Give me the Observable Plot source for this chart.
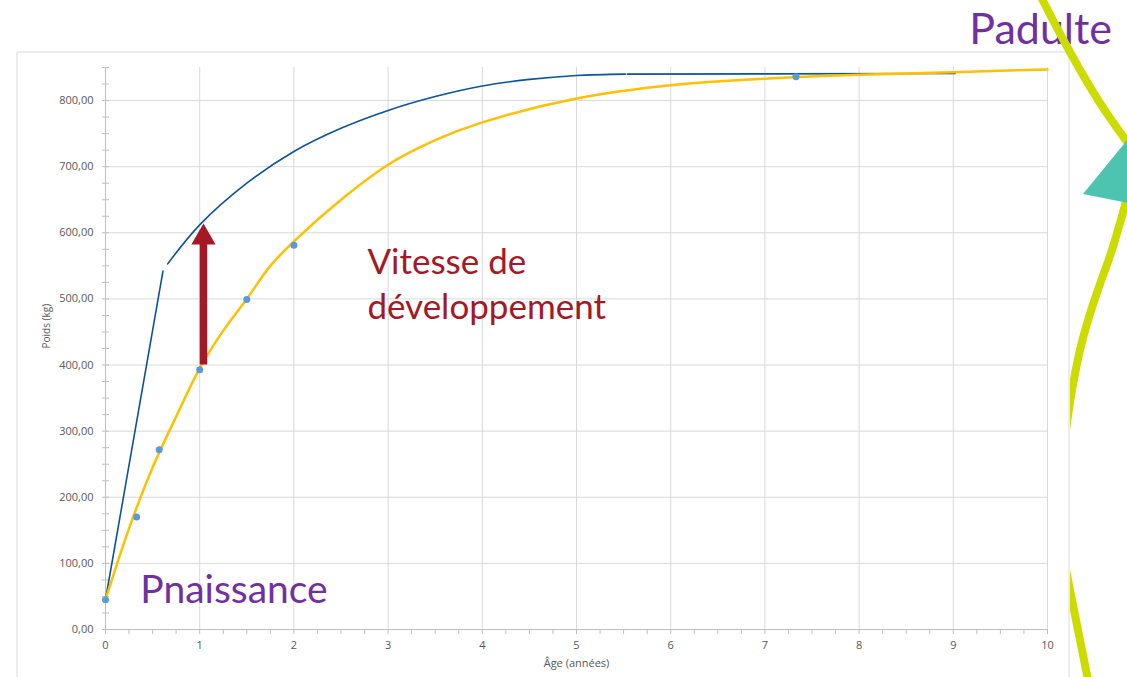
<!DOCTYPE html>
<html><head><meta charset="utf-8">
<script src="https://cdn.jsdelivr.net/npm/d3@7"></script>
<script src="https://cdn.jsdelivr.net/npm/@observablehq/plot@0.6"></script>
<style>html,body{margin:0;padding:0;background:#fff;overflow:hidden}</style>
</head><body><div id="chart"></div>
<script>
// Observed weights (blue dots)
const pointAge = [0, 0.33, 0.57, 1, 1.5, 2, 7.33];
const pointWeight = [45, 170, 272, 393, 499, 581, 836];
// Fitted growth curve (yellow)
const fitAge = [0, 0.25, 0.5, 0.75, 1, 1.25, 1.5, 1.75, 2, 2.5, 3, 3.5, 4, 5, 6, 7, 8, 9, 10];
const fitWeight = [45, 153, 245, 322, 395, 452, 500, 550, 587, 650, 703, 740, 767, 803, 823, 833, 839, 843, 847];
// Reference curve (dark blue), three pieces
const refAge1 = [0, 0.61];
const refWeight1 = [45, 542];
const refAge2 = [0.66, 1, 1.5, 2, 2.5, 3, 3.5, 4, 4.5, 5, 5.52];
const refWeight2 = [553, 612, 675, 723, 758, 785, 806, 822, 832, 838, 840];
const refAge3 = [5.54, 9.02];
const refWeight3 = [840, 841];
// Arrow "Vitesse de développement"
const arrowAge = [1.04];
const arrowFrom = [400];
const arrowHead = [593];
// Ticks
const yMajorTicks = [0, 100, 200, 300, 400, 500, 600, 700, 800];
const xMajorTicks = [0, 1, 2, 3, 4, 5, 6, 7, 8, 9, 10];
const yGridTicks = [100, 200, 300, 400, 500, 600, 700, 800];
const xGridTicks = [1, 2, 3, 4, 5, 6, 7, 8, 9, 10];
const yMinorTicks = d3.range(0, 851, 25);
const xMinorTicks = d3.range(0, 10.001, 0.25);
// Annotations
const labelTexts = ["Vitesse de", "développement", "Pnaissance", "Padulte"];
const labelAge = [2.78, 2.78, 0.37, 9.17];
const labelWeight = [554, 487, 59, 906];

const fit = fitAge.map((x, i) => ({x, y: fitWeight[i]}));
const pts = pointAge.map((x, i) => ({x, y: pointWeight[i]}));
const ref = [
  ...refAge1.map((x, i) => ({x, y: refWeight1[i], s: 1})),
  ...refAge2.map((x, i) => ({x, y: refWeight2[i], s: 2})),
  ...refAge3.map((x, i) => ({x, y: refWeight3[i], s: 3}))
];
const arrows = arrowAge.map((x, i) => ({x, y1: arrowFrom[i], y2: arrowHead[i] - 3, yh: arrowHead[i]}));
const labels = labelTexts.map((t, i) => ({t, x: labelAge[i], y: labelWeight[i]}));
const red = "#a51826", purple = "#7030a0", grid = "#d9d9d9", axisCol = "#bfbfbf", txt = "#595959";
const fmt = d => d.toFixed(2).replace(".", ",");

const plot = Plot.plot({
  width: 1127, height: 677,
  marginLeft: 105, marginRight: 80, marginTop: 67, marginBottom: 48,
  style: {fontFamily: "'Open Sans', sans-serif", background: "white", overflow: "visible"},
  x: {domain: [0, 10]},
  y: {domain: [0, 850]},
  marks: [
    Plot.ruleX(xGridTicks, {stroke: grid, strokeWidth: 1}),
    Plot.ruleY(yGridTicks, {stroke: grid, strokeWidth: 1}),
    Plot.ruleX([0], {stroke: axisCol}),
    Plot.ruleY([0], {stroke: axisCol}),
    Plot.axisY(yMinorTicks, {tickSize: 7, dx: 4, text: null, stroke: axisCol, label: null}),
    Plot.axisX(xMinorTicks, {tickSize: 5, text: null, stroke: axisCol, label: null}),
    Plot.axisY(yMajorTicks, {tickSize: 0, tickPadding: 12, tickFormat: fmt, fontSize: 11, fill: txt, label: null}),
    Plot.axisX(xMajorTicks, {tickSize: 0, tickPadding: 12, tickFormat: d => String(d), fontSize: 11, fill: txt, label: null}),
    Plot.text(["Poids (kg)"], {frameAnchor: "left", rotate: -90, dx: -59, fontSize: 10, fill: txt, style: "letter-spacing:0.6px"}),
    Plot.text(["Âge (années)"], {frameAnchor: "bottom", dy: 37, fontSize: 11, fill: txt}),
    Plot.line(ref, {x: "x", y: "y", z: "s", stroke: "#0b539e", strokeWidth: 1.6, curve: "catmull-rom"}),
    Plot.line(fit, {x: "x", y: "y", stroke: "#ffc000", strokeWidth: 2.5, curve: "catmull-rom"}),
    Plot.dot(pts, {x: "x", y: "y", r: 3.5, fill: "#5b9bd5"}),
    Plot.ruleX(arrows, {x: "x", y1: "y1", y2: "y2", stroke: red, strokeWidth: 7.5}),
    Plot.dot(arrows, {x: "x", y: "yh", symbol: "triangle", r: 9, fill: red, stroke: "none"}),
    Plot.text(labels.slice(0, 2), {x: "x", y: "y", text: "t", textAnchor: "start", fontSize: 35, fill: red, fontFamily: "Lato"}),
    Plot.text(labels.slice(2, 3), {x: "x", y: "y", text: "t", textAnchor: "start", fontSize: 39, fill: purple, fontFamily: "Lato"}),
    Plot.text(labels.slice(3), {x: "x", y: "y", text: "t", textAnchor: "start", fontSize: 43, fill: purple, fontFamily: "Lato"})
  ]
});
document.getElementById("chart").appendChild(plot);

// slide decoration (frame and shapes)
const svg = d3.select(plot);
svg.insert("path", ":first-child").attr("d", "M17,680V52H1069V680").attr("fill", "none").attr("stroke", grid).attr("stroke-width", 1);
const defs = svg.append("defs");
defs.append("clipPath").attr("id", "decoClip").append("rect").attr("x", 1070).attr("y", 0).attr("width", 60).attr("height", 677);
const line = d3.line().curve(d3.curveCatmullRom);
const lime = "#cddc00";
svg.append("path").attr("d", line([[1040, -5], [1070, 52], [1100, 103], [1130, 146]])).attr("fill", "none").attr("stroke", lime).attr("stroke-width", 8);
const g = svg.append("g").attr("clip-path", "url(#decoClip)");
g.append("path").attr("d", line([[1132, 180], [1112, 250], [1100, 284], [1089, 317], [1080, 350], [1072, 390], [1066, 430]])).attr("fill", "none").attr("stroke", lime).attr("stroke-width", 8);
g.append("path").attr("d", line([[1064, 560], [1071, 595], [1079, 635], [1088, 680]])).attr("fill", "none").attr("stroke", lime).attr("stroke-width", 8);
svg.append("path").attr("d", "M1083,194L1128,139L1128,203Z").attr("fill", "#4cc4b0");
</script></body></html>
